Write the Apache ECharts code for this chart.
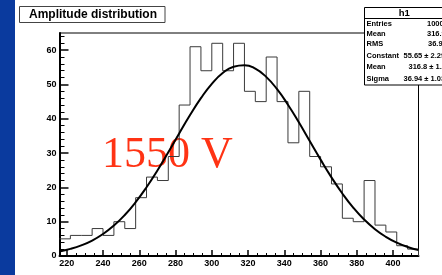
<!DOCTYPE html>
<html>
<head>
<meta charset="utf-8">
<script src="https://cdn.jsdelivr.net/npm/echarts@6.0.0/dist/echarts.min.js"></script>
<style>
html, body { margin: 0; padding: 0; background: #fff; }
#main { width: 442px; height: 275px; }
</style>
</head>
<body>
<div id="main"></div>
<script>
// histogram h1: 33 bins of width 6 from 216
var binStart = 216;
var binWidth = 6;
var counts = [5, 6, 6, 8, 6, 10, 8, 17, 23, 22, 29, 44, 61, 54, 62, 54, 62, 48, 45, 58, 45, 33, 48, 29, 26, 21, 11, 10, 22, 9, 7, 3, 2];

// gaussian fit
var fitX = [216, 222, 228, 234, 240, 246, 252, 258, 264, 270, 276, 282, 288, 294, 300, 306, 312, 318, 324, 330, 336, 342, 348, 354, 360, 366, 372, 378, 384, 390, 396, 402, 408, 414];
var fitY = [1.34, 2.07, 3.10, 4.51, 6.41, 8.87, 11.95, 15.68, 20.04, 24.94, 30.24, 35.71, 41.07, 46.00, 50.19, 53.33, 55.18, 55.62, 54.60, 52.21, 48.62, 44.10, 38.96, 33.52, 28.09, 22.92, 18.22, 14.11, 10.64, 7.81, 5.59, 3.89, 2.64, 1.75];

var xMajor = [220, 240, 260, 280, 300, 320, 340, 360, 380, 400];
var xMinor = [225, 230, 235, 245, 250, 255, 265, 270, 275, 285, 290, 295, 305, 310, 315, 325, 330, 335, 345, 350, 355, 365, 370, 375, 385, 390, 395, 405, 410];
var yMajor = [0, 10, 20, 30, 40, 50, 60];
var yMinor = [2, 4, 6, 8, 12, 14, 16, 18, 22, 24, 26, 28, 32, 34, 36, 38, 42, 44, 46, 48, 52, 54, 56, 58, 62, 64];

var statNames = ['Entries', 'Mean', 'RMS', 'Constant', 'Mean', 'Sigma'];
var statValues = ['1000', '316.9', '36.99', '55.65 \u00b1 2.29', '316.8 \u00b1 1.3', '36.94 \u00b1 1.03'];
var statValueX = [427, 427, 428, 403.5, 408.5, 403.5];
var statRowY = [24.2, 34.4, 44, 56.4, 66.8, 78.6];

var histData = [];
for (var i = 0; i < counts.length; i++) {
  histData.push([binStart + i * binWidth, counts[i]]);
}
var xEnd = binStart + counts.length * binWidth;
histData.push([xEnd, counts[counts.length - 1]]);
histData.push([xEnd, 0]);

var fitData = fitX.map(function (x, i) { return [x, fitY[i]]; });

var labelFont = { color: '#000', fontFamily: 'Liberation Sans, Arial', fontWeight: 'bold', fontSize: 9 };

var chart = echarts.init(document.getElementById('main'), null, { renderer: 'canvas' });

var graphics = [
  { type: 'rect', shape: { x: 0, y: 0, width: 15, height: 275 }, style: { fill: '#0a3a9e' }, z: 0 },
  { type: 'rect', shape: { x: 19.5, y: 6.5, width: 145.5, height: 16 }, style: { fill: '#fff', stroke: '#444', lineWidth: 1 }, z: 100 },
  { type: 'text', style: { x: 29, y: 14.5, text: 'Amplitude distribution', font: 'bold 12px "Liberation Sans", Arial', fill: '#000', verticalAlign: 'middle' }, z: 101 },
  { type: 'text', style: { x: 102, y: 155, text: '1550 V', font: '44px "Liberation Serif", "Times New Roman", serif', fill: '#ff3314', verticalAlign: 'middle' }, z: 1 },
  { type: 'rect', shape: { x: 364.5, y: 7.5, width: 79.5, height: 77.5 }, style: { fill: '#fff', stroke: '#000', lineWidth: 1 }, z: 100 },
  { type: 'line', shape: { x1: 364.5, y1: 18.5, x2: 444, y2: 18.5 }, style: { stroke: '#000', lineWidth: 1 }, z: 101 },
  { type: 'text', style: { x: 404.3, y: 13, text: 'h1', font: 'bold 9.5px "Liberation Sans", Arial', fill: '#000', align: 'center', verticalAlign: 'middle' }, z: 101 }
];
for (var k = 0; k < statNames.length; k++) {
  graphics.push({ type: 'text', style: { x: 366.5, y: statRowY[k], text: statNames[k], font: 'bold 7.5px "Liberation Sans", Arial', fill: '#000', verticalAlign: 'middle' }, z: 101 });
  graphics.push({ type: 'text', style: { x: statValueX[k], y: statRowY[k], text: statValues[k], font: 'bold 7.5px "Liberation Sans", Arial', fill: '#000', verticalAlign: 'middle' }, z: 101 });
}

var option = {
  backgroundColor: '#fff',
  animation: false,
  grid: {
    left: 59.5, right: 23.5, top: 33, bottom: 19,
    show: true, borderColor: '#000', borderWidth: 1,
    outerBoundsMode: 'none'
  },
  xAxis: [
    {
      type: 'value', min: binStart, max: xEnd,
      axisLine: { onZero: false, lineStyle: { color: '#000', width: 2 } },
      axisTick: { inside: true, length: 6, customValues: xMajor, lineStyle: { color: '#000', width: 1.5 } },
      axisLabel: Object.assign({ margin: 3, customValues: xMajor }, labelFont),
      splitLine: { show: false }
    },
    {
      type: 'value', min: binStart, max: xEnd, position: 'bottom',
      axisLine: { show: false, onZero: false },
      axisTick: { inside: true, length: 3, customValues: xMinor, lineStyle: { color: '#000', width: 1 } },
      axisLabel: { show: false },
      splitLine: { show: false }
    }
  ],
  yAxis: [
    {
      type: 'value', min: 0, max: 65,
      axisLine: { show: true, onZero: false, lineStyle: { color: '#000', width: 2 } },
      axisTick: { show: true, inside: true, length: 9, customValues: yMajor, lineStyle: { color: '#000', width: 1.5 } },
      axisLabel: Object.assign({ margin: 3, customValues: yMajor }, labelFont),
      splitLine: { show: false }
    },
    {
      type: 'value', min: 0, max: 65, position: 'left',
      axisLine: { show: false, onZero: false },
      axisTick: { show: true, inside: true, length: 5, customValues: yMinor, lineStyle: { color: '#000', width: 1 } },
      axisLabel: { show: false },
      splitLine: { show: false }
    }
  ],
  series: [
    {
      type: 'line', name: 'h1', data: histData, step: 'end',
      xAxisIndex: 0, yAxisIndex: 0,
      symbol: 'none', lineStyle: { color: '#3a3a3a', width: 1 }, z: 3
    },
    {
      type: 'line', name: 'fit', data: fitData, smooth: true,
      xAxisIndex: 0, yAxisIndex: 0,
      symbol: 'none', lineStyle: { color: '#000', width: 2 }, z: 4
    }
  ],
  graphic: graphics
};
chart.setOption(option);
</script>
</body>
</html>
